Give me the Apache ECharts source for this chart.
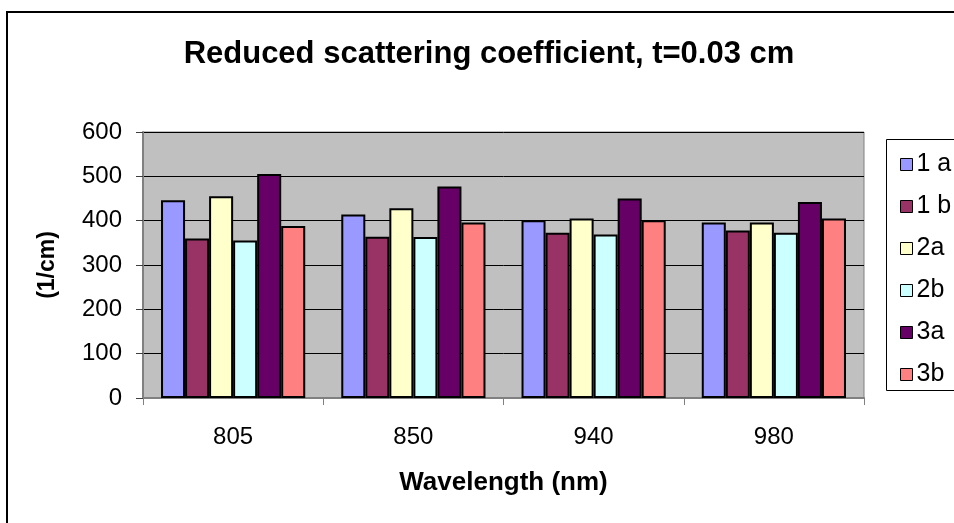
<!DOCTYPE html>
<html>
<head>
<meta charset="utf-8">
<script src="https://cdn.jsdelivr.net/npm/echarts@6/dist/echarts.min.js"></script>
<style>
  html, body { margin: 0; padding: 0; background: #fff; }
  #chart { width: 954px; height: 523px; }
</style>
</head>
<body>
<div id="chart"></div>
<script>
// Wavelengths (nm) on the category axis
const wavelengths = ['805', '850', '940', '980'];

// Reduced scattering coefficient (1/cm) per sample, t = 0.03 cm
const s1a = [446, 414, 401, 396];
const s1b = [360, 364, 373, 378];
const s2a = [455, 428, 405, 396];
const s2b = [355, 363, 369, 373];
const s3a = [505, 477, 450, 442];
const s3b = [388, 396, 401, 405];

const seriesNames = ['1 a', '1 b', '2a', '2b', '3a', '3b'];
const seriesData = [s1a, s1b, s2a, s2b, s3a, s3b];
const seriesColors = ['#9999FF', '#993366', '#FFFFCC', '#CCFFFF', '#660066', '#FF8080'];

const yTicks = { min: 0, max: 600, interval: 100 };

const FONT = '"Liberation Sans", Arial, sans-serif';

const chart = echarts.init(document.getElementById('chart'), null, { renderer: 'canvas' });

chart.setOption({
  backgroundColor: '#ffffff',
  animation: false,
  title: {
    text: 'Reduced scattering coefficient, t=0.03 cm',
    left: 484,
    textAlign: 'center',
    top: 34,
    textStyle: { fontFamily: FONT, fontSize: 31, fontWeight: 'bold', color: '#000' }
  },
  graphic: [
    {
      // outer chart frame
      type: 'rect',
      shape: { x: 7, y: 12, width: 1000, height: 600 },
      style: { fill: 'none', stroke: '#000', lineWidth: 2 },
      silent: true,
      z: 0
    },
    {
      // legend frame
      type: 'rect',
      shape: { x: 886.5, y: 139.5, width: 120, height: 251 },
      style: { fill: '#fff', stroke: '#000', lineWidth: 1 },
      silent: true,
      z: 1
    }
  ],
  legend: {
    orient: 'vertical',
    left: 895,
    top: 147,
    itemWidth: 12,
    itemHeight: 12,
    itemGap: 17,
    icon: 'rect',
    itemStyle: { borderColor: '#000', borderWidth: 1 },
    textStyle: { fontFamily: FONT, fontSize: 25, color: '#000', lineHeight: 25, padding: [0, 0, 0, -1] },
    data: seriesNames,
    z: 5
  },
  grid: {
    left: 143,
    right: 90,
    top: 132,
    bottom: 125,
    show: true,
    backgroundColor: '#C0C0C0',
    borderColor: '#808080',
    borderWidth: 1,
    containLabel: false
  },
  xAxis: {
    type: 'category',
    data: wavelengths,
    name: 'Wavelength (nm)',
    nameLocation: 'middle',
    nameGap: 72,
    nameTextStyle: { fontFamily: FONT, fontSize: 26, fontWeight: 'bold', color: '#000' },
    axisLine: { show: true, lineStyle: { color: '#808080', width: 2 } },
    axisTick: { show: true, length: 7, lineStyle: { color: '#808080', width: 1 } },
    axisLabel: { fontFamily: FONT, fontSize: 24, color: '#000', margin: 27 },
    splitLine: { show: false }
  },
  yAxis: {
    type: 'value',
    min: yTicks.min,
    max: yTicks.max,
    interval: yTicks.interval,
    name: '(1/cm)',
    nameLocation: 'middle',
    nameGap: 84,
    nameRotate: 90,
    nameTextStyle: { fontFamily: FONT, fontSize: 23, fontWeight: 'bold', color: '#000' },
    axisLine: { show: true, lineStyle: { color: '#808080', width: 2 } },
    axisTick: { show: true, length: 7, lineStyle: { color: '#404040', width: 1 } },
    axisLabel: { fontFamily: FONT, fontSize: 24, color: '#000', margin: 21 },
    splitLine: { show: true, lineStyle: { color: '#000', width: 1 } }
  },
  series: seriesNames.map((name, i) => ({
    name: name,
    type: 'bar',
    data: seriesData[i],
    barGap: '0%',
    barCategoryGap: '20%',
    itemStyle: { color: seriesColors[i], borderColor: '#000', borderWidth: 2 },
    emphasis: { disabled: true }
  }))
});
</script>
</body>
</html>
